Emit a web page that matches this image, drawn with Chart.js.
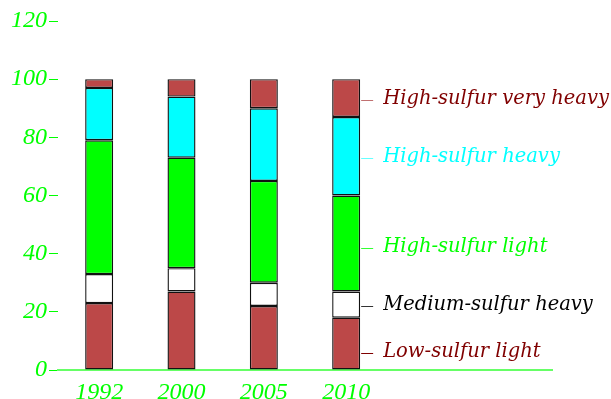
<!DOCTYPE html>
<html>
<head>
<meta charset="utf-8">
<script src="https://cdn.jsdelivr.net/npm/chart.js@4/dist/chart.umd.min.js"></script>
<style>
    html, body { margin: 0; padding: 0; background: #ffffff; }
    #wrap { width: 611px; height: 399px; }
</style>
</head>
<body>
<div id="wrap"><canvas id="sulfurChart" width="611" height="399"></canvas></div>
<script>
// categories (last two slots are empty room for the labels)
const years = ['1992', '2000', '2005', '2010', '', ''];

// series values, percent of total
const lowSulfurLight = [23, 27, 22, 18, null, null];
const mediumSulfurHeavy = [10, 8, 8, 9, null, null];
const highSulfurLight = [46, 38, 35, 33, null, null];
const highSulfurHeavy = [18, 21, 25, 27, null, null];
const highSulfurVeryHeavy = [3, 6, 10, 13, null, null];

// y tick labels
const yTicks = [0, 20, 40, 60, 80, 100, 120];

// side labels next to the 2010 bar and the value they sit at
const sideLabels = ['High-sulfur very heavy', 'High-sulfur heavy', 'High-sulfur light', 'Medium-sulfur heavy', 'Low-sulfur light'];
const sideLabelValues = [93, 73, 42, 22, 6];
const sideLabelColors = ['#800000', '#00ffff', '#00ff00', '#000000', '#800000'];
const sideTickColors = ['#c07070', '#66ffff', '#33ff33', '#333333', '#800000'];

const TICK_FONT = "'Liberation Serif'";
const LABEL_FONT = "'DejaVu Serif'";

const sideLabelPlugin = {
    id: 'sideLabels',
    afterDatasetsDraw(chart) {
        const ctx = chart.ctx;
        const yScale = chart.scales.y;
        const bar = chart.getDatasetMeta(0).data[3];
        const x0 = bar.x + bar.width / 2;
        ctx.save();
        ctx.font = 'italic 19.5px ' + LABEL_FONT;
        ctx.textBaseline = 'middle';
        ctx.textAlign = 'left';
        sideLabels.forEach((text, i) => {
            const y = Math.round(yScale.getPixelForValue(sideLabelValues[i])) + 0.5;
            ctx.strokeStyle = sideTickColors[i];
            ctx.lineWidth = 1;
            ctx.beginPath();
            ctx.moveTo(x0 + 1, y);
            ctx.lineTo(x0 + 13, y);
            ctx.stroke();
            ctx.fillStyle = sideLabelColors[i];
            ctx.fillText(text, x0 + 23, y - 2);
        });
        ctx.restore();
    }
};

function makeSet(label, data, color) {
    return {
        label: label,
        data: data,
        backgroundColor: color,
        borderColor: '#111111',
        borderWidth: 1.4,
        borderSkipped: false,
        categoryPercentage: 1,
        barPercentage: 0.34
    };
}

const ctx = document.getElementById('sulfurChart').getContext('2d');
new Chart(ctx, {
    type: 'bar',
    data: {
        labels: years,
        datasets: [
            makeSet('Low-sulfur light', lowSulfurLight, '#bc4848'),
            makeSet('Medium-sulfur heavy', mediumSulfurHeavy, '#ffffff'),
            makeSet('High-sulfur light', highSulfurLight, '#00ff00'),
            makeSet('High-sulfur heavy', highSulfurHeavy, '#00ffff'),
            makeSet('High-sulfur very heavy', highSulfurVeryHeavy, '#bc4848')
        ]
    },
    options: {
        responsive: false,
        animation: false,
        layout: { padding: { top: 21, right: 59, bottom: 0, left: 0 } },
        plugins: {
            legend: { display: false },
            tooltip: { enabled: false }
        },
        scales: {
            x: {
                stacked: true,
                afterFit: scale => { scale.height = 29; },
                border: { display: true, color: '#66ff66', width: 2 },
                grid: { display: false },
                ticks: {
                    color: '#00ff00',
                    font: { family: TICK_FONT, size: 24, style: 'italic' },
                    padding: 0,
                    maxRotation: 0
                }
            },
            y: {
                stacked: true,
                min: 0,
                max: 120,
                afterFit: scale => { scale.width = 58; },
                afterBuildTicks: scale => { scale.ticks = yTicks.map(v => ({ value: v })); },
                border: { display: false },
                grid: {
                    drawOnChartArea: false,
                    drawTicks: true,
                    tickLength: 9,
                    color: '#00ff00'
                },
                ticks: {
                    color: '#00ff00',
                    font: { family: TICK_FONT, size: 24, style: 'italic' },
                    padding: 2
                }
            }
        }
    },
    plugins: [sideLabelPlugin]
});
</script>
</body>
</html>
